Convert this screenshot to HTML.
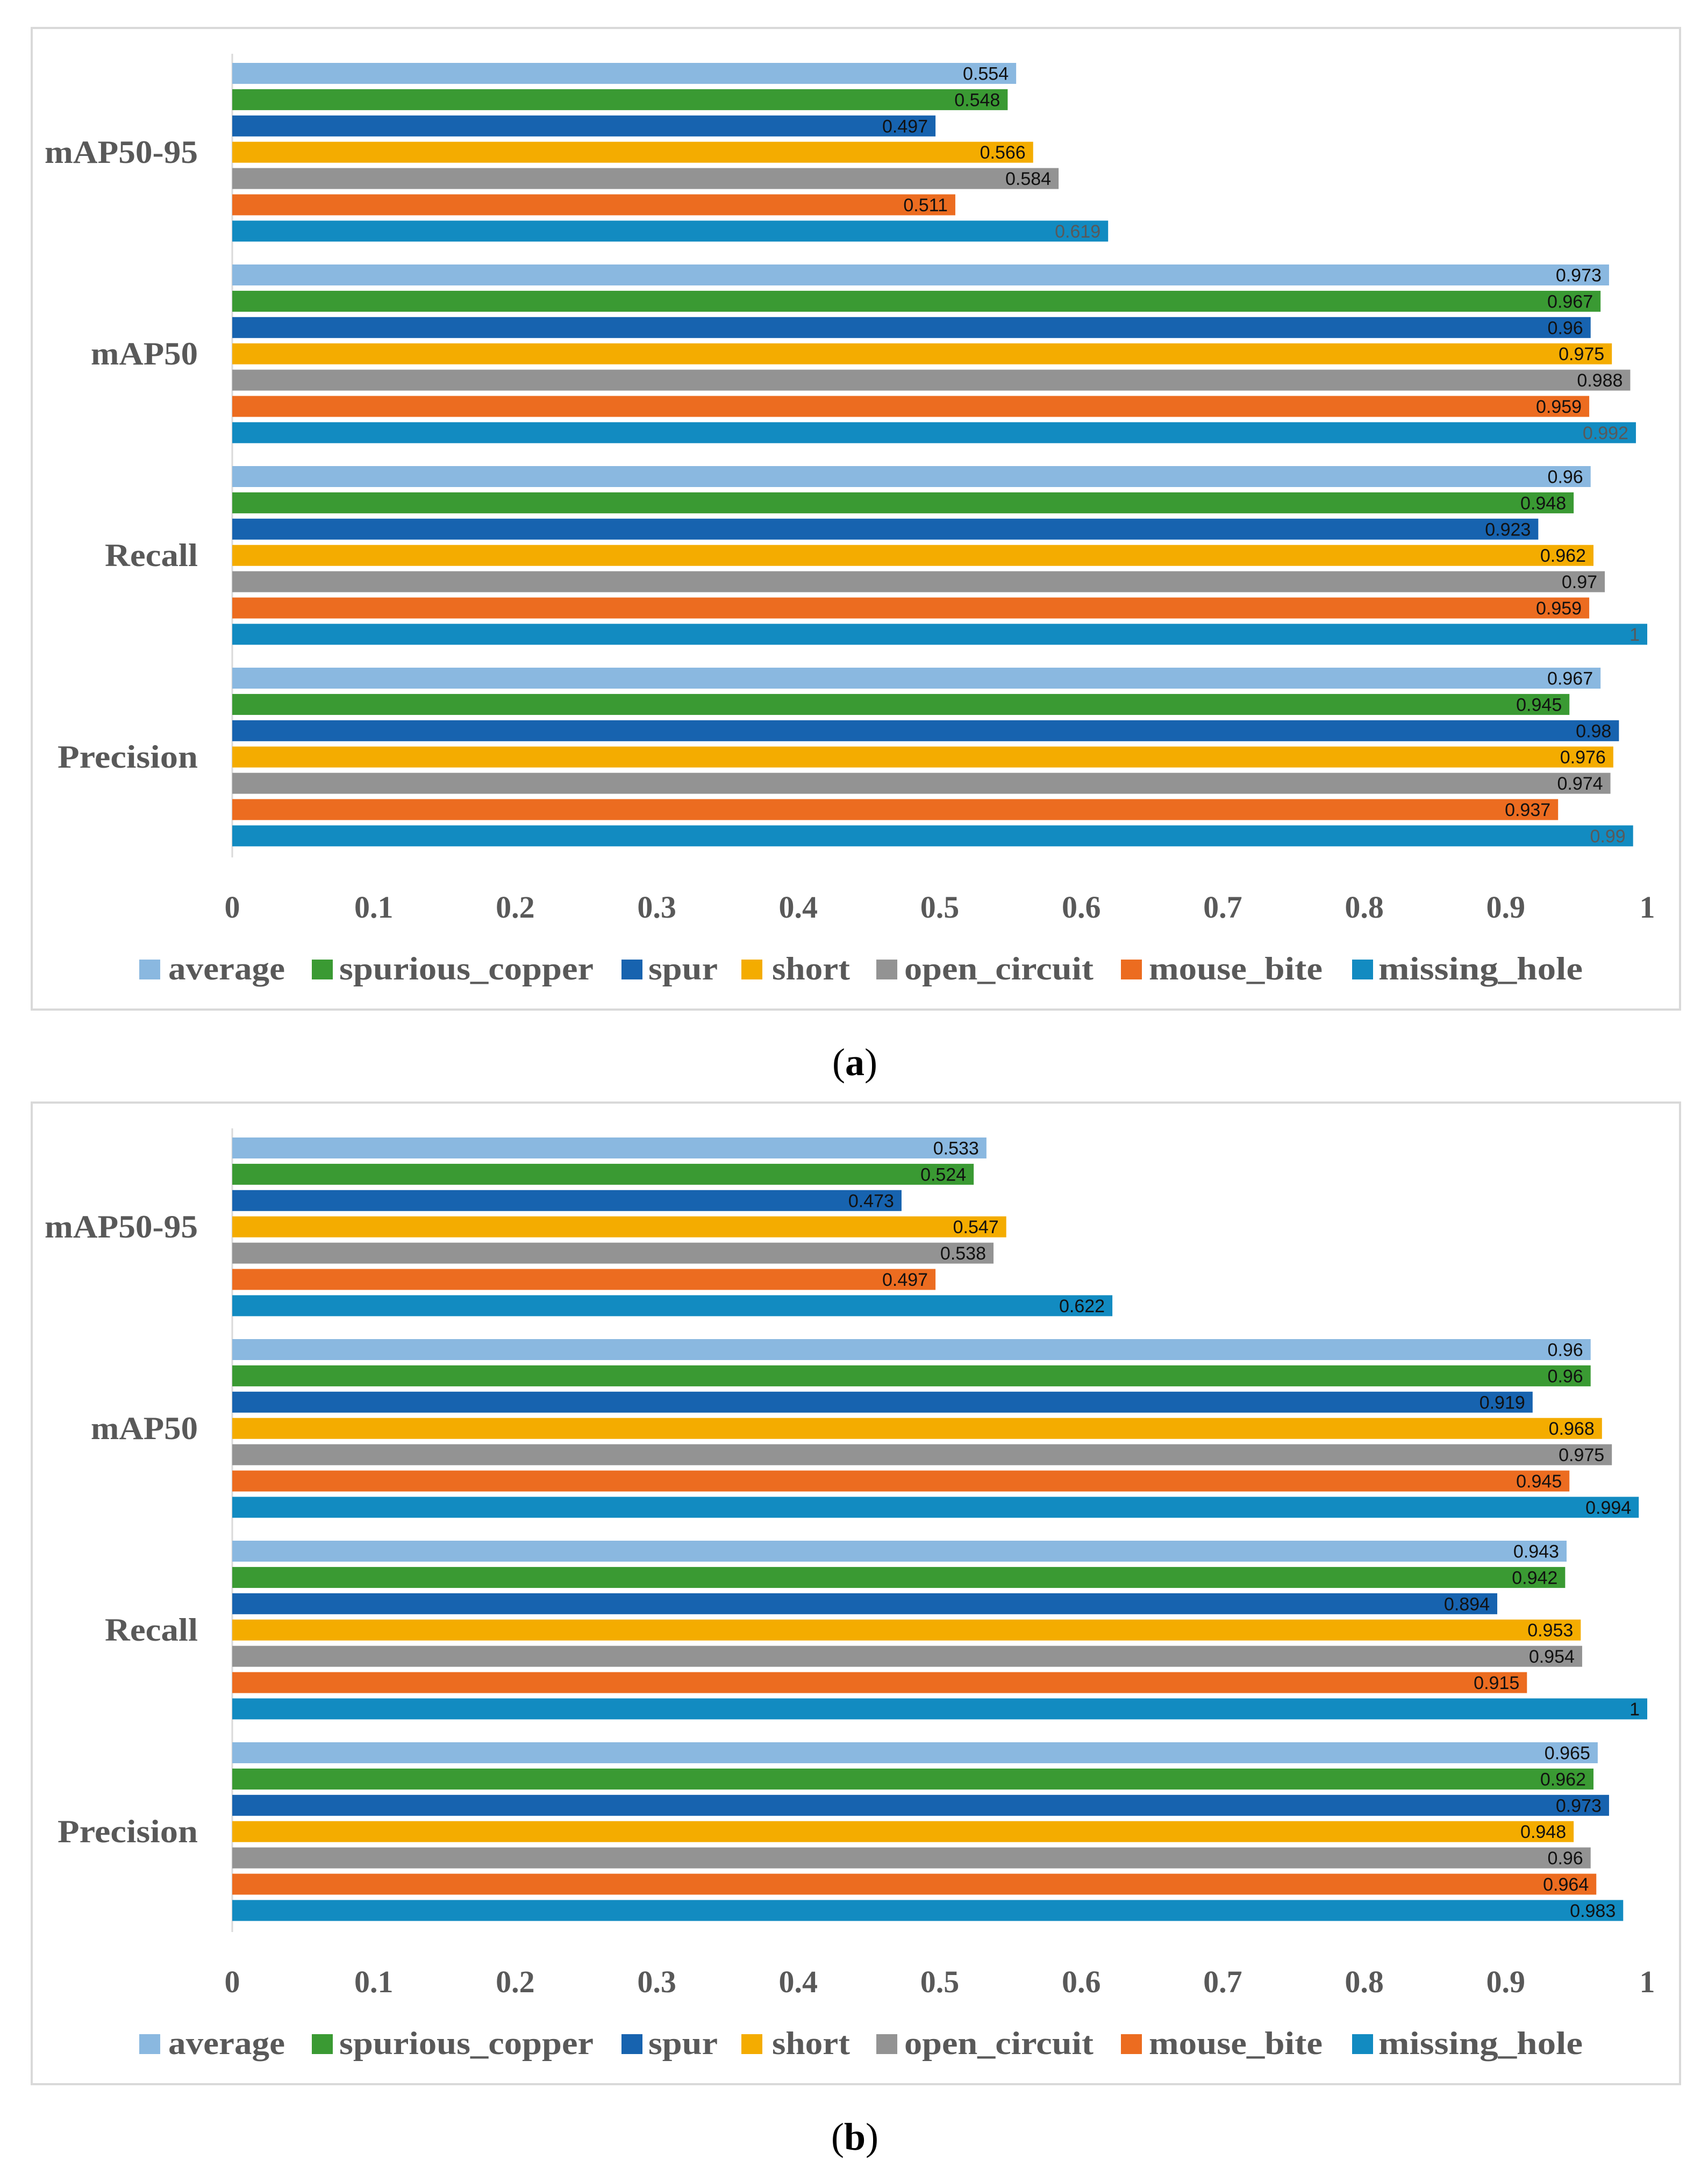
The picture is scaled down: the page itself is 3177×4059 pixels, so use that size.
<!DOCTYPE html>
<html><head><meta charset="utf-8"><style>
html,body{margin:0;padding:0;background:#fff;}
svg{display:block;}
</style></head><body>
<svg id="chart" xmlns="http://www.w3.org/2000/svg" width="3177" height="4059" viewBox="0 0 3177 4059"></svg>
<script>
const categories = ["mAP50-95","mAP50","Recall","Precision"];
const seriesNames = ["average","spurious_copper","spur","short","open_circuit","mouse_bite","missing_hole"];
const ticks = [0,0.1,0.2,0.3,0.4,0.5,0.6,0.7,0.8,0.9,1];
const tickLabels = ["0","0.1","0.2","0.3","0.4","0.5","0.6","0.7","0.8","0.9","1"];
const panelAValues = [
  [0.554,0.548,0.497,0.566,0.584,0.511,0.619],
  [0.973,0.967,0.96,0.975,0.988,0.959,0.992],
  [0.96,0.948,0.923,0.962,0.97,0.959,1],
  [0.967,0.945,0.98,0.976,0.974,0.937,0.99]
];
const panelBValues = [
  [0.533,0.524,0.473,0.547,0.538,0.497,0.622],
  [0.96,0.96,0.919,0.968,0.975,0.945,0.994],
  [0.943,0.942,0.894,0.953,0.954,0.915,1],
  [0.965,0.962,0.973,0.948,0.96,0.964,0.983]
];
const colors = ["#8AB8E0","#3A9A33","#1763AF","#F4AC00","#939393","#EC6C20","#128BC1"];

const NS = "http://www.w3.org/2000/svg";
const svg = document.getElementById("chart");
function mk(tag, attrs, parent){
  const e = document.createElementNS(NS, tag);
  for (const k in attrs) e.setAttribute(k, attrs[k]);
  (parent||svg).appendChild(e);
  return e;
}
const X0 = 432, X1 = 3064;
function xScale(v){ return X0 + (X1 - X0) * v; }
const legendSq = [259, 580, 1156, 1379, 1630, 2085, 2515];
const legendTx = [313, 631, 1206, 1436, 1682, 2137, 2564];
const legendW = [217, 473, 129, 145, 352, 323, 380];
const catW = [285, 199, 173, 261];

function drawPanel(values, oy, id, caption, lastLabelColor){
  const g = mk("g", {});
  
  
  const frame = mk("rect", {x:59, y:52+oy, width:3066, height:1826, fill:"#fff", stroke:"#d9d9d9", "stroke-width":4}, g);
  
  
  const axis = mk("line", {x1:X0, y1:100+oy, x2:X0, y2:1595+oy, stroke:"#d9d9d9", "stroke-width":3}, g);
  
  
  const catPitch = 375, barPitch = 48.9, barH = 39, top = 117 + oy;
  categories.forEach((c, ci) => {
    const cy = top + ci*catPitch + (6*barPitch + barH)/2;
    const lbl = mk("text", {x:368, y:cy+20, "text-anchor":"end", "font-family":"Liberation Serif, serif", "font-weight":"bold", "font-size":60, fill:"#595959", textLength:catW[ci], lengthAdjust:"spacingAndGlyphs"}, g);
    lbl.textContent = c;
    
    
    values[ci].forEach((v, si) => {
      const y = top + ci*catPitch + si*barPitch;
      const r = mk("rect", {x:X0, y:y, width:xScale(v)-X0, height:barH, fill:colors[si]}, g);
      
      
      const t = mk("text", {x:xScale(v)-14, y:y+barH/2+12, "text-anchor":"end", "font-family":"Liberation Sans Narrow, Liberation Sans, sans-serif", "font-size":34, fill:(si===6?lastLabelColor:"#111")}, g);
      t.textContent = String(v);
      
      
    });
  });
  ticks.forEach((tv, i) => {
    const t = mk("text", {x:xScale(tv), y:1707+oy, "text-anchor":"middle", "font-family":"Liberation Serif, serif", "font-weight":"bold", "font-size":58, fill:"#595959"}, g);
    t.textContent = tickLabels[i];
    
    
  });
  seriesNames.forEach((s, si) => {
    const lg = mk("g", {}, g);
    
    
    mk("rect", {x:legendSq[si], y:1785+oy, width:39, height:37, fill:colors[si]}, lg);
    const t = mk("text", {x:legendTx[si], y:1822+oy, "font-family":"Liberation Serif, serif", "font-weight":"bold", "font-size":60, fill:"#595959", textLength:legendW[si], lengthAdjust:"spacingAndGlyphs"}, lg);
    t.textContent = s;
  });
  const cap = mk("text", {x:1590, y:2000+oy, "text-anchor":"middle", "font-family":"Liberation Serif, serif", "font-size":72, fill:"#000"});
  
  
  const a = mk("tspan", {}, cap); a.textContent = "(";
  const b = mk("tspan", {"font-weight":"bold"}, cap); b.textContent = caption;
  const c2 = mk("tspan", {}, cap); c2.textContent = ")";
}
drawPanel(panelAValues, 0, "a", "a", "#595959");
drawPanel(panelBValues, 1999, "b", "b", "#111");
</script>
</body></html>
